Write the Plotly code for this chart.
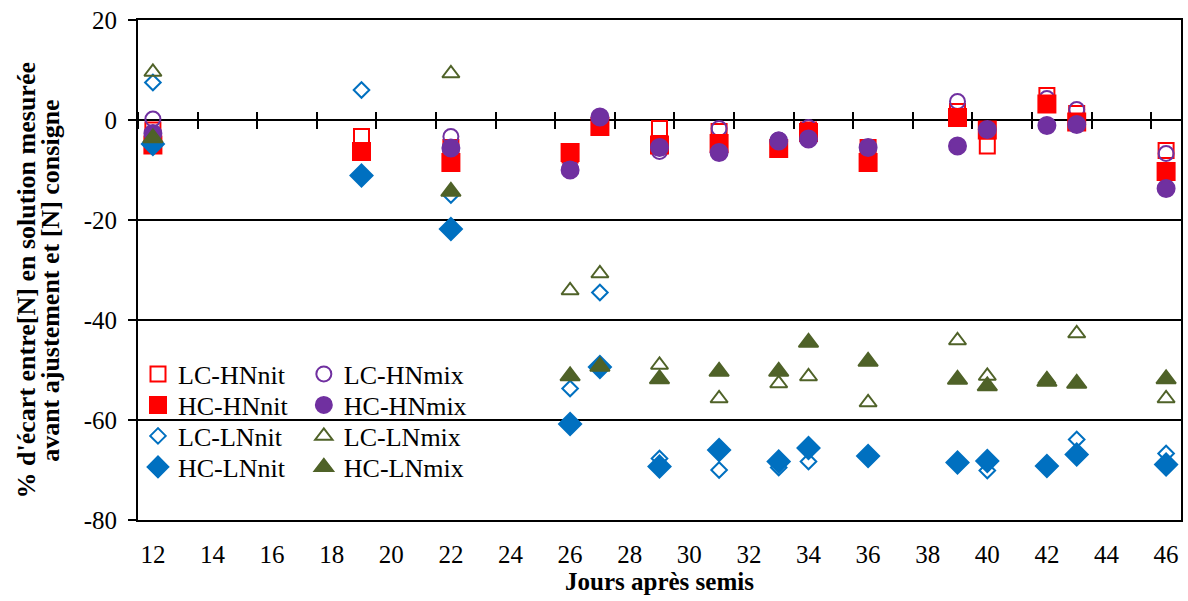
import plotly.graph_objects as go

days = [12, 19, 22, 26, 27, 29, 31, 33, 34, 36, 39, 40, 42, 43, 46]

lc_hnnit = [-2, -3.3, -5.5, -7, -1, -1.7, -2.3, -5.5, -2, -5.5, 1.7, -5.2, 4.9, 1.3, -6.1]
hc_hnnit = [-5, -6.3, -8.5, -6.5, -1.3, -5, -4.7, -5.7, -2.5, -8.5, 0.5, -2, 3.2, -0.4, -10.3]
lc_hnmix = [0.2, None, -3.3, -9.5, 0.5, -6.3, -1.7, -4, -1.5, -5.5, 3.7, -2, 4.3, 2.1, -6.7]
hc_hnmix = [-2.7, None, -5.6, -10, 0.6, -5.5, -6.5, -4.2, -3.8, -5.5, -5.2, -1.9, -1.1, -0.9, -13.7]
lc_lnnit = [7.5, 6, -15, -53.7, -34.5, -67.7, -70, -69.5, -68.3, -67, -68.5, -70.1, -69.2, -63.9, -66.7]
hc_lnnit = [-4.8, -11.1, -21.8, -60.8, -49.4, -69.3, -66, -68.3, -65.6, -67.2, -68.5, -68.2, -69.2, -66.9, -68.9]
lc_lnmix = [9.6, None, 9.3, -34.1, -30.7, -49, -55.7, -52.7, -51.3, -56.5, -44.1, -51.2, -51.9, -42.7, -55.7]
hc_lnmix = [-3.6, None, -14.3, -51.2, -49.3, -51.8, -50.3, -50.3, -44.5, -48.3, -51.9, -53.2, -52.3, -52.7, -51.8]

x_ticks = list(range(12, 47, 2))
y_ticks = [20, 0, -20, -40, -60, -80]
y_tick_text = ["20", "0", "-20", "-40", "-60", "-80"]

RED = "#FF0000"
PURPLE = "#7030A0"
BLUE = "#0070C0"
OLIVE = "#4F6228"
FONT = "Liberation Serif, Times New Roman, serif"

# (name, values, symbol, size, colour, legend id, legend column, legend row)
series = [
    ("LC-HNnit", lc_hnnit, "square-open", 15, RED, "legend", 0, 0),
    ("LC-HNmix", lc_hnmix, "circle-open", 15, PURPLE, "legend2", 1, 0),
    ("HC-HNnit", hc_hnnit, "square", 17, RED, "legend3", 0, 1),
    ("HC-HNmix", hc_hnmix, "circle", 17, PURPLE, "legend4", 1, 1),
    ("LC-LNnit", lc_lnnit, "diamond-open", 12, BLUE, "legend5", 0, 2),
    ("LC-LNmix", lc_lnmix, "triangle-up-open", 15, OLIVE, "legend6", 1, 2),
    ("HC-LNnit", hc_lnnit, "diamond", 17, BLUE, "legend7", 0, 3),
    ("HC-LNmix", hc_lnmix, "triangle-up", 17, OLIVE, "legend8", 1, 3),
]

fig = go.Figure()
for name, vals, sym, size, col, leg, c, r in series:
    fig.add_trace(go.Scatter(
        x=days, y=vals, mode="markers", name=name, legend=leg,
        marker=dict(symbol=sym, size=size, color=col,
                    line=dict(width=2, color=col)),
    ))

# empty traces so the crossing-tick axes at y=0 get drawn
fig.add_trace(go.Scatter(x=[], y=[], xaxis="x2", yaxis="y", showlegend=False, hoverinfo="skip"))
fig.add_trace(go.Scatter(x=[], y=[], xaxis="x3", yaxis="y", showlegend=False, hoverinfo="skip"))

col_x = [-0.0, 0.159]
row_y = [0.292, 0.23, 0.168, 0.106]
legends = {}
for name, vals, sym, size, col, leg, c, r in series:
    legends[leg] = dict(x=col_x[c], y=row_y[r], xanchor="left", yanchor="middle",
                        bgcolor="rgba(0,0,0,0)", font=dict(size=26, family=FONT),
                        itemsizing="trace")

rng = [11.5, 46.5]
fig.update_layout(
    width=1188, height=601,
    margin=dict(l=138, r=5, t=20, b=81),
    paper_bgcolor="white", plot_bgcolor="white",
    font=dict(family=FONT, size=25, color="black"),
    xaxis=dict(range=rng, tickvals=x_ticks, ticks="", showline=True, mirror=True,
               linecolor="black", linewidth=2, showgrid=False, zeroline=False,
               tickfont=dict(size=25, family=FONT), ticklabelstandoff=11,
               title=dict(text="<b>Jours après semis</b>", font=dict(size=25, family=FONT), standoff=2)),
    xaxis2=dict(range=rng, overlaying="x", anchor="free", position=0.8, side="bottom",
                tick0=13.5, dtick=2, ticks="outside", ticklen=8, tickwidth=2, tickcolor="black",
                showticklabels=False, showgrid=False, zeroline=False, showline=False),
    xaxis3=dict(range=rng, overlaying="x", anchor="free", position=0.8, side="top",
                tick0=13.5, dtick=2, ticks="outside", ticklen=8, tickwidth=2, tickcolor="black",
                showticklabels=False, showgrid=False, zeroline=False, showline=False),
    yaxis=dict(range=[-80, 20], tickvals=y_ticks, ticktext=y_tick_text, showline=True, mirror=True,
               linecolor="black", linewidth=2, ticks="outside", ticklen=8, tickwidth=2,
               tickcolor="black", showgrid=True, gridcolor="black", gridwidth=1.5,
               zeroline=True, zerolinecolor="black", zerolinewidth=2,
               tickfont=dict(size=25, family=FONT), ticklabelstandoff=6),
    showlegend=True,
    annotations=[
        dict(text="<b>% d'écart entre[N] en solution mesurée</b>", xref="paper", yref="paper",
             x=-0.107, y=0.48, xanchor="center", yanchor="middle", textangle=-90,
             showarrow=False, font=dict(size=26, family=FONT)),
        dict(text="<b>avant ajustement et [N] consigne</b>", xref="paper", yref="paper",
             x=-0.0845, y=0.48, xanchor="center", yanchor="middle", textangle=-90,
             showarrow=False, font=dict(size=26, family=FONT)),
    ],
    **legends,
)

fig.write_html("out.html", config={"displayModeBar": False},
               post_script="document.body.style.margin='0';")
